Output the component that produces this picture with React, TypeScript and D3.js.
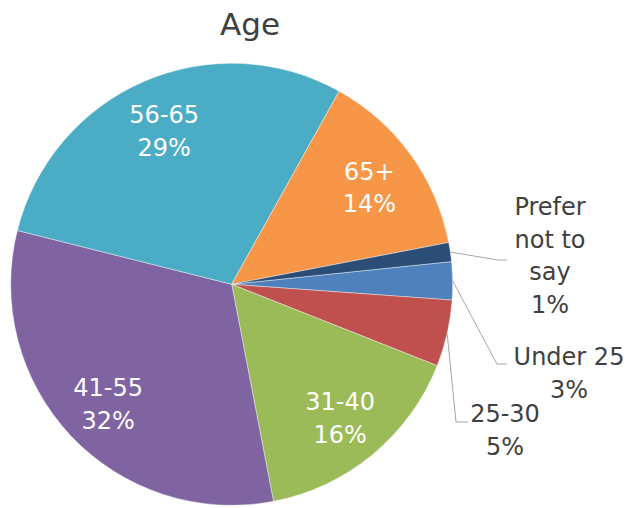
import React from "react";
import * as d3 from "d3";

const categories = ["Under 25", "25-30", "31-40", "41-55", "56-65", "65+", "Prefer not to say"];
const counts = [4, 7, 23, 46, 42, 20, 2];
const colors = ["#4F81BD", "#C0504D", "#9BBB59", "#8064A2", "#4BACC6", "#F79646", "#2C4D75"];
const labelLines = [["Under 25"], ["25-30"], ["31-40"], ["41-55"], ["56-65"], ["65+"], ["Prefer", "not to", "say"]];
const outside = [true, true, false, false, false, false, true];
const title = "Age";

// layout constants for outside labels (block center x, first line center y, leader end)
const outsideLayout: Record<string, { cx: number; y0: number; endX: number; endY: number; elbowX: number }> = {
  "Under 25": { cx: 569, y0: 357, endX: 507, endY: 364, elbowX: 497 },
  "25-30": { cx: 505, y0: 414, endX: 468, endY: 422, elbowX: 456 },
  "Prefer not to say": { cx: 550, y0: 207, endX: 507, endY: 260, elbowX: 498 },
};

const W = 634;
const H = 508;
const CX = 231.7;
const CY = 284.3;
const R = 221;
const LABEL_R = 170;
const LINE_H = 32.7;
const INNER_DY = 3.5;
const FONT = "'DejaVu Sans', sans-serif";

export default function App() {
  const total = d3.sum(counts);
  const start = (84.1 * Math.PI) / 180;
  const pie = d3
    .pie<number>()
    .sort(null)
    .value((d) => d)
    .startAngle(start)
    .endAngle(start + 2 * Math.PI);
  const arcs = pie(counts);
  const arc = d3.arc<d3.PieArcDatum<number>>().innerRadius(0).outerRadius(R);
  const labelArc = d3.arc<d3.PieArcDatum<number>>().innerRadius(LABEL_R).outerRadius(LABEL_R);

  return (
    <svg width={W} height={H} style={{ position: "absolute", left: 0, top: 0, background: "#fff" }}>
      <text x={250} y={24} textAnchor="middle" dominantBaseline="central" fontFamily={FONT} fontSize={31} fill="#404040">
        {title}
      </text>
      <g transform={`translate(${CX},${CY})`}>
        {arcs.map((a, i) => (
          <path key={categories[i]} d={arc(a) || ""} fill={colors[i]} stroke="#ffffff" strokeWidth={0.4} />
        ))}
      </g>
      {arcs.map((a, i) => {
        const pct = Math.round((counts[i] / total) * 100) + "%";
        const lines = [...labelLines[i], pct];
        if (!outside[i]) {
          const [lx, ly] = labelArc.centroid(a);
          const x = CX + lx;
          const yc = CY + ly + INNER_DY;
          const y0 = yc - ((lines.length - 1) * LINE_H) / 2;
          return (
            <text key={"l" + i} textAnchor="middle" dominantBaseline="central" fontFamily={FONT} fontSize={24} fill="#ffffff">
              {lines.map((t, j) => (
                <tspan key={j} x={x} y={y0 + j * LINE_H}>
                  {t}
                </tspan>
              ))}
            </text>
          );
        }
        const L = outsideLayout[categories[i]];
        const mid = (a.startAngle + a.endAngle) / 2;
        const sx = CX + R * Math.sin(mid);
        const sy = CY - R * Math.cos(mid);
        return (
          <g key={"l" + i}>
            <polyline
              points={`${sx},${sy} ${L.elbowX},${L.endY} ${L.endX},${L.endY}`}
              fill="none"
              stroke="#A6A6A6"
              strokeWidth={1}
            />
            <text textAnchor="middle" dominantBaseline="central" fontFamily={FONT} fontSize={24} fill="#404040">
              {lines.map((t, j) => (
                <tspan key={j} x={L.cx} y={L.y0 + j * LINE_H}>
                  {t}
                </tspan>
              ))}
            </text>
          </g>
        );
      })}
    </svg>
  );
}
